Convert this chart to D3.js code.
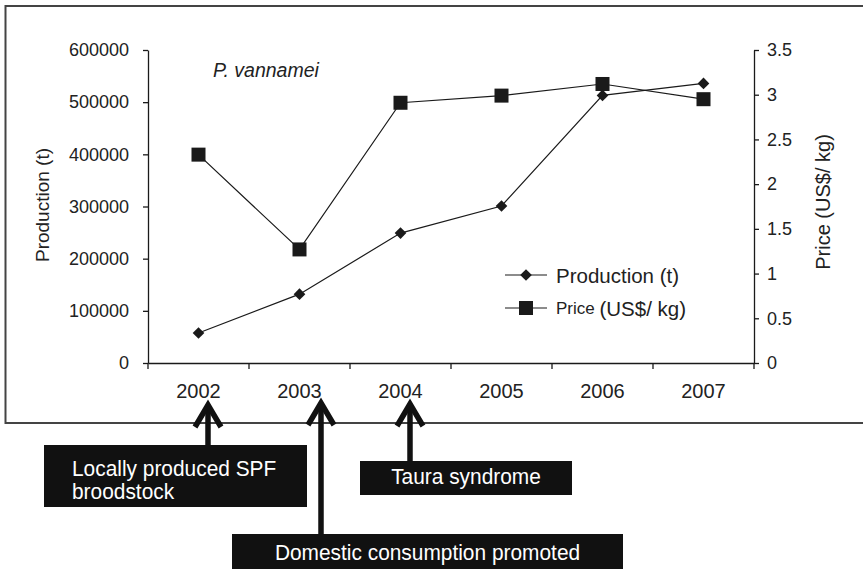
<!DOCTYPE html>
<html><head><meta charset="utf-8">
<script src="https://cdn.jsdelivr.net/npm/d3@7"></script>
<style>
body{margin:0;background:#fff;}
svg{display:block;font-family:"Liberation Sans",Arial,sans-serif;}
</style></head>
<body><svg id="c" width="863" height="569"></svg>
<script>
const years = ["2002","2003","2004","2005","2006","2007"];
const production = [57500, 132000, 249000, 301000, 513000, 536000];
const price = [2.33, 1.27, 2.91, 2.99, 3.12, 2.95];
const prodTicks = [0,100000,200000,300000,400000,500000,600000];
const priceTicks = [0,0.5,1,1.5,2,2.5,3,3.5];
const events = [
  {lines:["Locally produced SPF","broodstock"], year:"2002"},
  {lines:["Domestic consumption promoted"], year:"2003"},
  {lines:["Taura syndrome"], year:"2004"}
];

const svg = d3.select("#c");
const ink = "#1a1a1a";
const L = 148, R = 754, T = 50, B = 363;

// frame
svg.append("rect").attr("x",5.5).attr("y",6).attr("width",900).attr("height",417)
  .attr("fill","none").attr("stroke","#444").attr("stroke-width",2);

const x = d3.scaleBand().domain(years).range([L,R]);
const yP = d3.scaleLinear().domain([0,600000]).range([B,T]);
const yR = d3.scaleLinear().domain([0,3.5]).range([B,T]);

const tickFont = 18;
const gl = svg.append("g").attr("transform",`translate(${L},0)`)
  .call(d3.axisLeft(yP).tickValues(prodTicks).tickFormat(d3.format("d")).tickSize(5).tickSizeOuter(0).tickPadding(14));
const gr = svg.append("g").attr("transform",`translate(${R},0)`)
  .call(d3.axisRight(yR).tickValues(priceTicks).tickFormat(d=>String(d)).tickSize(5).tickSizeOuter(0).tickPadding(8));
const gx = svg.append("g").attr("transform",`translate(0,${B})`)
  .call(d3.axisBottom(x).tickSize(0).tickPadding(21));
const bounds = years.map(d=>x(d)).concat([R]);
svg.append("g").selectAll("line").data(bounds).join("line")
  .attr("x1",d=>d).attr("x2",d=>d).attr("y1",B).attr("y2",B+6)
  .attr("stroke",ink).attr("stroke-width",1.3);

[gl,gr,gx].forEach(g=>{
  g.selectAll(".domain").attr("stroke",ink).attr("stroke-width",1.3);
  g.selectAll(".tick line").attr("stroke",ink).attr("stroke-width",1.3);
  g.selectAll("text").attr("fill","#222").attr("font-size",tickFont).attr("font-family","Liberation Sans, Arial, sans-serif");
});
gx.selectAll("text").attr("font-size",20);

svg.append("text").attr("transform","translate(42,205) rotate(-90)")
  .attr("text-anchor","middle").attr("dominant-baseline","central")
  .attr("font-size",19).attr("fill","#222").text("Production (t)");
svg.append("text").attr("transform","translate(823,202) rotate(-90)")
  .attr("text-anchor","middle").attr("dominant-baseline","central")
  .attr("font-size",20).attr("fill","#222").text("Price (US$/ kg)");

svg.append("text").attr("x",213).attr("y",77).attr("font-size",19.5)
  .attr("font-style","italic").attr("fill","#222").text("P. vannamei");

const cx = d=>x(d)+x.bandwidth()/2;

svg.append("path").datum(price.map((v,i)=>[cx(years[i]),yR(v)]))
  .attr("d",d3.line()).attr("fill","none").attr("stroke",ink).attr("stroke-width",1.2);
svg.append("g").selectAll("rect").data(price).join("rect")
  .attr("x",(d,i)=>cx(years[i])-7).attr("y",d=>yR(d)-7).attr("width",14).attr("height",14).attr("fill",ink);

svg.append("path").datum(production.map((v,i)=>[cx(years[i]),yP(v)]))
  .attr("d",d3.line()).attr("fill","none").attr("stroke",ink).attr("stroke-width",1.2);
svg.append("g").selectAll("path").data(production).join("path")
  .attr("d",d3.symbol().type(d3.symbolSquare).size(68))
  .attr("transform",(d,i)=>`translate(${cx(years[i])},${yP(d)}) rotate(45)`).attr("fill",ink);

// legend
const lg = svg.append("g");
lg.append("line").attr("x1",505).attr("x2",547).attr("y1",275).attr("y2",275).attr("stroke",ink).attr("stroke-width",1.2);
lg.append("path").attr("d",d3.symbol().type(d3.symbolSquare).size(68)).attr("transform","translate(526,275) rotate(45)").attr("fill",ink);
lg.append("text").attr("x",556).attr("y",275).attr("dominant-baseline","central").attr("font-size",20.5).attr("fill","#222").text("Production (t)");
lg.append("line").attr("x1",505).attr("x2",547).attr("y1",308).attr("y2",308).attr("stroke",ink).attr("stroke-width",1.2);
lg.append("rect").attr("x",519).attr("y",301).attr("width",14).attr("height",14).attr("fill",ink);
const pt = lg.append("text").attr("x",556).attr("y",308).attr("dominant-baseline","central").attr("fill","#222");
pt.append("tspan").attr("font-size",17).text("Price ");
pt.append("tspan").attr("font-size",20.5).text("(US$/ kg)");

// annotation boxes and arrows
const boxes = [
  {x0:44,y0:445,x1:307,y1:507, ax:208, tipY:401},
  {x0:232,y0:534,x1:623,y1:575, ax:321, tipY:399},
  {x0:360,y0:461,x1:572,y1:495, ax:410, tipY:400}
];
const sx = 0.95;
events.forEach((e,i)=>{
  const b = boxes[i];
  const ax = b.ax;
  svg.append("line").attr("x1",ax).attr("x2",ax).attr("y1",b.tipY+4).attr("y2",b.y0)
    .attr("stroke","#111").attr("stroke-width",5.5);
  svg.append("path").attr("d",`M${ax-13},${b.tipY+26} L${ax},${b.tipY+4} L${ax+13},${b.tipY+26}`)
    .attr("fill","none").attr("stroke","#111").attr("stroke-width",5.5).attr("stroke-linejoin","miter").attr("stroke-miterlimit",10);
  svg.append("rect").attr("x",b.x0).attr("y",b.y0).attr("width",b.x1-b.x0).attr("height",b.y1-b.y0).attr("fill","#111");
  if(i===0){
    e.lines.forEach((ln,j)=>{
      svg.append("text").attr("fill","#fff").attr("font-size",22)
        .attr("transform",`translate(${b.x0+28},${b.y0+31+j*23}) scale(${sx},1)`).text(ln);
    });
  } else {
    const cxb=(b.x0+b.x1)/2, cy = i===1?553:477;
    svg.append("text").attr("fill","#fff").attr("font-size",22).attr("text-anchor","middle")
      .attr("dominant-baseline","central")
      .attr("transform",`translate(${cxb},${cy}) scale(${sx},1)`).text(e.lines[0]);
  }
});
</script></body></html>
